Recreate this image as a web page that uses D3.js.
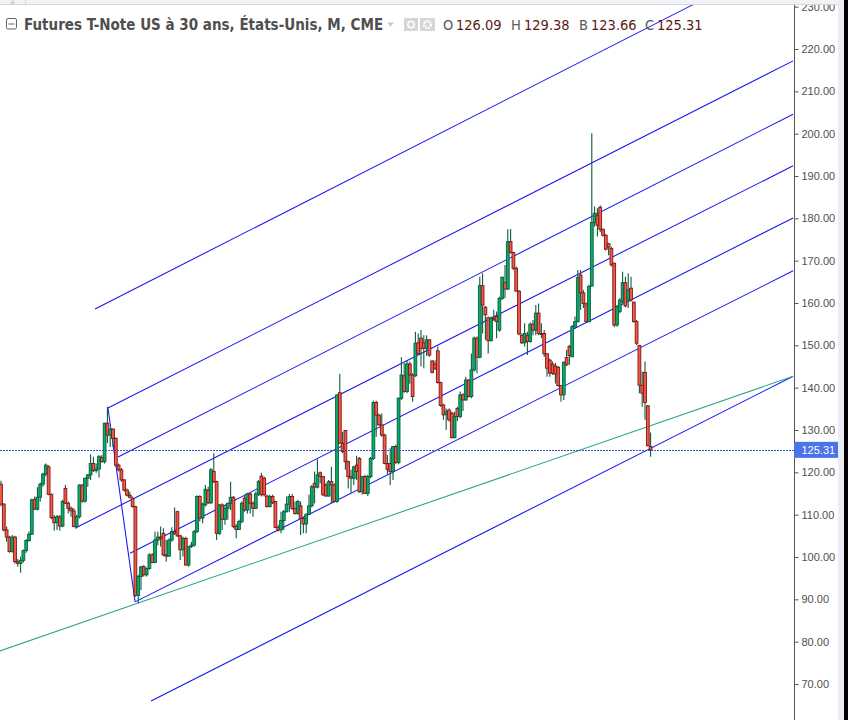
<!DOCTYPE html>
<html>
<head>
<meta charset="utf-8">
<script src="https://cdnjs.cloudflare.com/ajax/libs/d3/7.8.5/d3.min.js"></script>
<style>
html, body { margin: 0; padding: 0; background: #fff; overflow: hidden; }
text { font-family: "Liberation Sans", Arial, sans-serif; }
</style>
</head>
<body>
<div id="chart"></div>
<script>
// monthly bars
const opens = [
  117.2,112.5,106.4,104.7,101.3,104.7,98.9,98.5,99.2,101.5,
  103.9,105.4,113.6,111.3,114.1,117.2,119.6,121.3,114.8,109.3,
  108.1,109.5,107.3,116.2,112.7,111.5,110.9,107.2,109.5,117,
  113.2,118.6,119.4,122.1,120.4,120.8,123.5,122.5,131.6,128.8,
  130.2,128,121.7,120.6,118.2,115.8,114.6,113.8,111.9,90.9,
  95.4,97.7,95.8,97.3,100.5,98.7,104,104.7,105.6,100.5,
  100.2,104,106,110.7,105,101.7,104.4,98.1,102.5,102.8,
  106,114.3,109.2,112.3,115.7,112.8,120.2,117.8,105.6,112.3,
  108.9,111.5,112.7,114.1,107.2,106.5,108.4,113.9,111.1,114.9,
  112.7,111.5,114.9,119.1,118.6,114.4,111.9,114.3,113.1,107,
  106.4,108.6,110.7,112.5,114.3,111.5,110.3,112.1,109.1,107.8,
  110.1,112.1,117.4,116.5,119.9,119,117,114.4,117.8,117,
  113.1,138.8,126.9,129.9,122.5,119,118.6,121.7,123.3,115.4,
  119,115,119,123.3,136.5,133.5,131.2,128.8,122.1,122.1,
  120.2,126.1,122.3,137.5,142.8,139.1,145.6,143,142.8,150.6,
  151.7,150.6,149.3,151.3,146.3,145.6,148.7,141.2,135.9,133.6,
  134.7,134,128.2,135.1,133.2,138.3,137.1,141.8,137.9,144.2,
  151.7,147.2,164.1,159,156.5,151.1,156.4,156.8,153.6,161.1,
  164.8,163.3,174.5,171.9,168.2,162.8,152.4,150.6,152.4,150.9,
  155,153.6,157.6,152.8,152.8,148,146.5,145.5,145.1,144.8,
  140.5,138.3,147.1,149.7,147.3,154.4,155.6,166.6,162.4,159.8,
  155.6,164,179,180.6,182.6,177.4,176,174,172.9,169.4,
  154.8,158,160.3,164.8,160.7,163.5,160.2,155.6,150,140.5,
  143.6,135.7,126.09
];
const highs = [
  118,112.7,107.2,105,105.2,105,99.5,100.1,101.8,104.2,
  106,113.8,114.3,116.5,117.6,119.9,122.1,121.7,115,109.9,
  109.9,109.9,113.5,117,113.1,111.9,111.5,109.9,117.2,117.2,
  118.8,119.6,124.3,123.7,122.1,124.1,124.1,131.7,135.5,130.4,
  130.4,128.3,122.1,121,118.4,116.2,115.4,114.3,112.1,95.8,
  97.9,98.1,97.5,100.9,100.9,106,106,107.2,106.8,104,
  104.4,107,111.7,110.9,105.2,104.8,104.8,102.6,103.6,106.4,
  114.6,114.6,112.8,117,116.6,121,124.5,118,112.5,112.7,
  112.3,112.7,117.8,114.4,107.8,108.8,113.1,114.7,115.2,115.2,
  113.1,115.4,118.2,119.9,119,114.7,114.7,114.7,113.3,107.6,
  110.7,111.1,114.3,114.9,114.9,113.1,113.5,113.1,109.5,110.3,
  114.7,117,120.2,123.1,120.2,119.1,117.4,118.2,121.3,117.4,
  138.4,143.2,129.6,130,122.8,120.6,121.5,123.9,123.6,119.1,
  119.4,119.4,123.6,136.9,136.9,133.9,133.9,129.1,124.1,125.7,
  126.2,126.5,137.7,147.2,145.8,146.5,146.2,143.4,153.2,152.8,
  153.6,152.4,152.4,151.4,146.5,146.5,149.7,141.4,136.2,135.1,
  135.1,134.3,134.3,135.5,139.1,138.7,142.6,142,148.1,152.1,
  152.1,166.2,167,159.3,156.8,156.8,158.4,158,161.5,166.2,
  169,177.4,177.5,172.1,168.6,163.1,152.8,155.2,153.2,155.4,
  156,159.5,159.9,155.2,153.6,148.1,146.9,146.2,145.8,145.1,
  140.6,146.2,148.9,150.1,154.8,156.8,167.8,167.8,163.1,160.1,
  164.3,200.1,182.8,182.4,183.1,177.6,176.3,174.2,173.3,169.5,
  159.5,161.1,167.4,166.2,167,166.2,160.3,156,150.1,143.8,
  146.2,135.9,129.38
];
const lows = [
  112,106,103.6,101,101,98.4,97.7,96.3,98.7,101,
  103.6,105.2,111.1,111,113.1,116.6,119.1,114.6,108.9,106.2,
  106.4,106.2,107,112.5,110.3,109.5,107,106.8,109.1,112.8,
  112.8,116.6,118.2,120.1,119.9,118.8,122.3,122.1,126.9,126,
  126,121.3,120.2,117.8,115.4,114.3,113.8,111.7,90.6,89.1,
  92.2,95.4,95.4,97,98.5,98.5,102.8,102.5,100.2,98.9,
  100.1,103.6,105.2,104.7,99.3,100.1,98,97.7,102.1,102.5,
  105.6,108.4,108,111.9,112.5,112.5,117.4,104,105.2,106.4,
  107.6,108.8,111.1,106.8,104.4,106.4,108,110.7,110.3,110.3,
  109.5,111.3,114.4,114.3,114.3,111.7,111.7,112.5,106.8,106,
  105.6,106.4,110.5,110.7,111.1,110,110,105.2,105.6,105.6,
  109.9,111.7,112.7,116.2,117.4,114.4,114.3,114.3,112.7,112.8,
  112.8,126.7,124.5,120.6,116.2,115.2,117,118.2,115.2,114.7,
  114.9,114.4,118.6,122.9,128.4,131,128.4,121.9,119.4,117,
  118.2,122,121.9,137.1,138.8,138.7,140.9,136.7,142.6,147.7,
  145,144.6,147.5,147.3,143.4,144.2,141,135.5,132.4,130,
  132,128,128,132.1,132.8,134.5,136.9,137.7,137.5,143.8,
  143.4,146.9,152.8,151.3,148.1,150.9,155.8,151.7,153.2,160.7,
  161.1,163.1,171.7,167.8,162.7,152.4,150.3,149.7,147.7,150.6,
  152.4,152.4,152.4,151.7,147.3,142.6,142.6,143,141,140.2,
  136.7,137.1,145.1,145.4,147.2,154,155.4,158.4,158.8,155.4,
  155.4,163.9,178,175.7,176.8,175.7,172.4,171.3,168.6,154.3,
  154.4,157.6,159.9,159,158.8,160.3,155.4,150.1,138.7,135.5,
  132.4,126.1,123.66
];
const closes = [
  112.5,106.4,104.7,101.3,104.7,98.9,98.5,99.2,101.5,103.9,
  105.4,113.5,111.3,114.1,117.2,119.6,121.7,114.8,109.3,108.1,
  109.5,107.3,113.1,112.7,111.5,110.9,107.2,109.5,117,113.2,
  118.6,119.4,122.1,120.4,120.8,123.7,122.5,131.6,128.8,130.2,
  128,121.7,120.6,118.2,115.8,114.6,114.1,111.9,90.9,95.4,
  97.7,95.8,97.3,100.5,98.7,104,104.7,104.4,100.5,100.2,
  104,106,105.6,105,101.7,104.4,98.1,102.5,102.8,106,
  114.3,109.2,112.5,116,112.8,120.6,117.8,105.6,112.3,108.9,
  111.5,112.7,114.1,107.2,106.5,108.4,112.7,111.1,114.9,112.7,
  111.5,114.9,117.8,114.7,114.7,111.9,114.3,112.8,107,106.4,
  108.6,110.7,112.5,114.3,111.5,110.3,113.1,109.1,107.8,110.1,
  112.1,116.6,116.5,119.4,119,114.7,114.4,117.8,117,113.1,
  138.3,126.9,124.9,122.5,119,118.6,121.3,120.2,115.4,119,
  115,119,123.3,136.5,133.5,131.2,128.8,122.1,120.7,120.2,
  126.1,122.3,137.5,143,139.1,145.6,143,137.9,150.5,148,
  149.3,149.3,151.3,147.7,143.6,144.6,141.2,135.8,133.6,134.3,
  132.4,128.2,133.2,133.2,138.3,137.1,141.8,137.9,144.2,151.7,
  147.2,164.1,159.5,157.2,151.1,156.4,156,155.6,161.1,166.1,
  163.3,174.5,171.9,168.2,162.8,152.7,150.6,152.8,150.9,155,
  153.6,157.6,152.8,152.6,148,144.6,143.4,143.4,143.2,140.5,
  138.3,146,145.4,147.6,154.4,155.6,166,162.4,159.9,155.6,
  163.9,179,181.2,178.4,177.4,176,172.7,173.2,169,154.8,
  159.1,160.7,164.8,159.3,163.1,160.7,155.6,150.5,140.6,138.7,
  136.5,126.3,125.31
];

const priceTicks = [70,80,90,100,110,120,130,140,150,160,170,180,190,200,210,220,230];
const lastPrice = 125.31;

// drawn lines as [bar index, price] pairs
const forkLines = [
  [[33.6,158.6],[247.5,230.6]],
  [[38.2,135.2],[282.9,217.2]],
  [[41.8,123.6],[282.9,204.6]],
  [[26.4,106.8],[282.9,192.4]],
  [[46.1,100.9],[282.9,180.1]],
  [[47.9,89.4],[282.9,167.6]],
  [[53.6,66],[282.9,142.7]],
  [[38.2,135.2],[47.9,89.4]]
];
const trendLine = [[-0.4,77.8],[282.9,142.7]];

const titleText = "Futures T-Note US à 30 ans, États-Unis, M, CME";
const ohlcLabels = ["O","H","B","C"];
const ohlcValues = ["126.09","129.38","123.66","125.31"];
const ohlcLabelX = [443,511,579,645];
const ohlcValueX = [456,524,591,657];

const W = 848, H = 720;
const axisX = 794;
const HEADER_FONT = "'DejaVu Sans Condensed', 'DejaVu Sans', sans-serif";

const svg = d3.select("#chart").append("svg").attr("width", W).attr("height", H).style("display", "block");

const x = d3.scaleLinear().domain([0, 232]).range([1, 650.6]);
const y = d3.scaleLinear().domain([70, 220]).range([684, 49]);

const bars = opens.map((o, i) => ({ i: i, o: o, h: highs[i], l: lows[i], c: closes[i] }));

const UP_FILL = "#02ae69", UP_LINE = "#0d5c3d", DOWN_FILL = "#f6594a", DOWN_LINE = "#7a1512";

/* ------- DRAWN LINES ------- */
const line = d3.line().x(d => x(d[0])).y(d => y(d[1]));
svg.append("g").selectAll("path").data(forkLines).enter().append("path")
  .attr("d", line).attr("fill", "none").attr("stroke", "#1414f8").attr("stroke-width", 1.05);
svg.append("path").attr("d", line(trendLine)).attr("fill", "none")
  .attr("stroke", "#2fa58c").attr("stroke-width", 1.1);

/* ------- CANDLES ------- */
const candle = svg.append("g").selectAll("g").data(bars).enter().append("g");
candle.append("line")
  .attr("x1", d => x(d.i)).attr("x2", d => x(d.i))
  .attr("y1", d => y(d.h)).attr("y2", d => y(d.l))
  .attr("stroke", UP_LINE).attr("stroke-width", 1.1);
candle.append("rect")
  .attr("x", d => x(d.i) - 1.4)
  .attr("width", 2.8)
  .attr("y", d => y(Math.max(d.o, d.c)))
  .attr("height", d => Math.max(1, Math.abs(y(d.o) - y(d.c))))
  .attr("fill", d => d.c >= d.o ? UP_FILL : DOWN_FILL)
  .attr("stroke", d => d.c >= d.o ? UP_LINE : DOWN_LINE)
  .attr("stroke-width", 0.9);

/* ------- LAST PRICE LINE ------- */
svg.append("line")
  .attr("x1", 0).attr("x2", axisX)
  .attr("y1", Math.round(y(lastPrice)) + 0.5).attr("y2", Math.round(y(lastPrice)) + 0.5)
  .attr("stroke", "#2f55cc").attr("stroke-width", 1).attr("stroke-dasharray", "2,1");

/* ------- PRICE AXIS ------- */
svg.append("rect").attr("x", axisX).attr("y", 0).attr("width", W - axisX).attr("height", H).attr("fill", "#fff");
svg.append("rect").attr("x", 838).attr("y", 0).attr("width", 6).attr("height", H).attr("fill", "#ecedf3");
svg.append("rect").attr("x", 844).attr("y", 0).attr("width", 4).attr("height", H).attr("fill", "#000");

const axis = d3.axisRight(y).tickValues(priceTicks).tickFormat(d3.format(".2f")).tickSize(4).tickPadding(3);
const axisG = svg.append("g").attr("transform", "translate(" + (axisX + 0.5) + ",0)").call(axis);
axisG.select(".domain").attr("stroke", "#555").attr("d", "M0,0V" + H);
axisG.selectAll(".tick line").attr("stroke", "#555");
axisG.selectAll(".tick text").attr("fill", "#4f4f4f").style("font-size", "11px").style("font-family", "'Liberation Sans', Arial, sans-serif");

svg.append("rect").attr("x", axisX).attr("y", y(lastPrice) - 8).attr("width", 44).attr("height", 16).attr("fill", "#4a74e8");
svg.append("text").attr("x", 801.5).attr("y", y(lastPrice) + 4).attr("fill", "#fff").style("font-size", "11px").text(d3.format(".2f")(lastPrice));

/* ------- HEADER ------- */
svg.append("rect").attr("x", 0).attr("y", 0).attr("width", 838).attr("height", 4).attr("fill", "#f1f2f5");
svg.append("line").attr("x1", 0).attr("x2", 838).attr("y1", 4.5).attr("y2", 4.5).attr("stroke", "#d4d6da");
svg.append("path").attr("d", "M10,3.5l2.5,-3l2.5,3z").attr("fill", "#c4c6ca");
svg.append("line").attr("x1", 25.5).attr("x2", 25.5).attr("y1", 0).attr("y2", 4).attr("stroke", "#d4d6da");

svg.append("rect").attr("x", 6.5).attr("y", 18.5).attr("width", 10).attr("height", 10.5).attr("rx", 1.5)
  .attr("fill", "none").attr("stroke", "#666");
svg.append("line").attr("x1", 8.5).attr("x2", 14.5).attr("y1", 24).attr("y2", 24).attr("stroke", "#666");

svg.append("text").attr("x", 24).attr("y", 29.5)
  .style("font-family", HEADER_FONT).style("font-weight", "bold").style("font-size", "15px")
  .attr("fill", "#4e4e4e").text(titleText);

svg.append("path").attr("d", "M387,22.5h7l-3.5,4z").attr("fill", "#c8c8c8");

svg.append("rect").attr("x", 404).attr("y", 18).attr("width", 14).attr("height", 13).attr("fill", "#d6d6d6");
svg.append("circle").attr("cx", 411).attr("cy", 24.5).attr("r", 3.2).attr("fill", "none").attr("stroke", "#fff").attr("stroke-width", 1.5);
svg.append("rect").attr("x", 420).attr("y", 18).attr("width", 15).attr("height", 13).attr("fill", "#d6d6d6");
svg.append("circle").attr("cx", 427.5).attr("cy", 24.5).attr("r", 3.4).attr("fill", "none").attr("stroke", "#fff").attr("stroke-width", 2.4).attr("stroke-dasharray", "2,0.8");

svg.append("g").selectAll("text").data(ohlcLabels).enter().append("text")
  .attr("x", (d, i) => ohlcLabelX[i]).attr("y", 29.5)
  .style("font-family", HEADER_FONT).style("font-size", "14.5px")
  .attr("fill", "#5a5a5a").text(d => d);
svg.append("g").selectAll("text").data(ohlcValues).enter().append("text")
  .attr("x", (d, i) => ohlcValueX[i]).attr("y", 29.5)
  .style("font-family", HEADER_FONT).style("font-size", "14.5px")
  .attr("fill", "#5c1a14").text(d => d);
</script>
</body>
</html>
